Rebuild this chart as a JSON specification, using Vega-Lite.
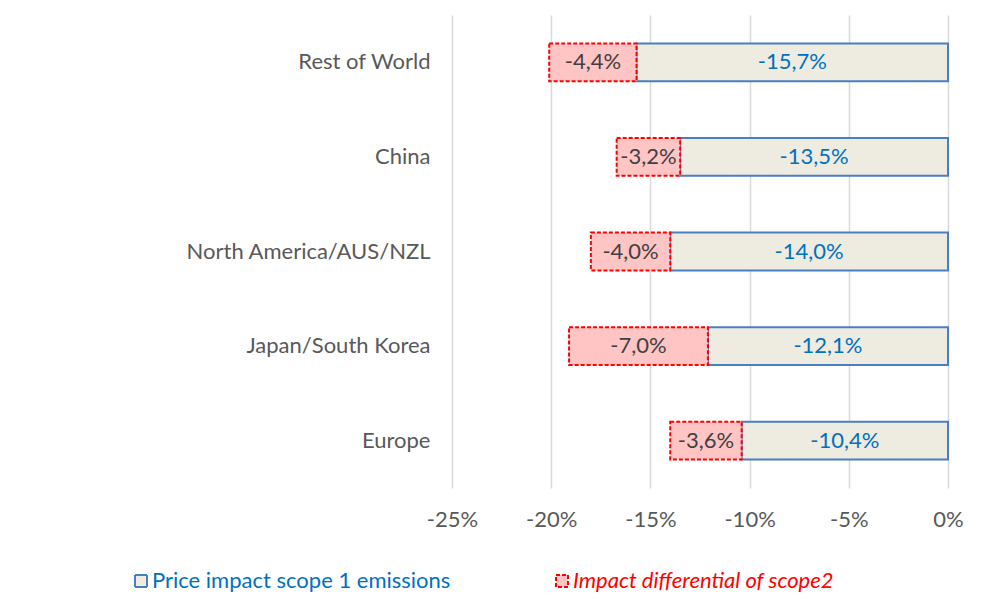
{
  "$schema": "https://vega.github.io/schema/vega-lite/v6.json",
  "width": 496,
  "height": 473,
  "autosize": {"type": "none"},
  "padding": {"left": 452, "top": 15, "right": 38, "bottom": 111},
  "background": "white",
  "config": {
    "font": "Lato",
    "view": {"stroke": null},
    "locale": {
      "number": {
        "decimal": ",",
        "thousands": ".",
        "grouping": [3],
        "currency": ["", " €"],
        "minus": "-"
      }
    }
  },
  "data": {
    "values": [
      {"region": "Rest of World", "series": "Price impact scope 1 emissions", "value": -0.157},
      {"region": "China", "series": "Price impact scope 1 emissions", "value": -0.135},
      {"region": "North America/AUS/NZL", "series": "Price impact scope 1 emissions", "value": -0.140},
      {"region": "Japan/South Korea", "series": "Price impact scope 1 emissions", "value": -0.121},
      {"region": "Europe", "series": "Price impact scope 1 emissions", "value": -0.104},
      {"region": "Rest of World", "series": "Impact differential of scope2", "value": -0.044},
      {"region": "China", "series": "Impact differential of scope2", "value": -0.032},
      {"region": "North America/AUS/NZL", "series": "Impact differential of scope2", "value": -0.040},
      {"region": "Japan/South Korea", "series": "Impact differential of scope2", "value": -0.070},
      {"region": "Europe", "series": "Impact differential of scope2", "value": -0.036}
    ]
  },
  "transform": [
    {
      "stack": "value",
      "groupby": ["region"],
      "sort": [{"field": "series", "order": "descending"}],
      "as": ["v0", "v1"]
    },
    {"calculate": "(datum.v0 + datum.v1) / 2", "as": "mid"}
  ],
  "encoding": {
    "y": {
      "field": "region",
      "type": "nominal",
      "sort": ["Rest of World", "China", "North America/AUS/NZL", "Japan/South Korea", "Europe"],
      "scale": {"paddingInner": 0.6, "paddingOuter": 0.3},
      "axis": {
        "title": null,
        "domain": false,
        "ticks": false,
        "labelFontSize": 22,
        "labelColor": "#595959",
        "labelPadding": 22,
        "labelLimit": 400
      }
    }
  },
  "layer": [
    {
      "mark": {"type": "bar", "strokeWidth": 2},
      "encoding": {
        "x": {
          "field": "v1",
          "type": "quantitative",
          "scale": {"domain": [-0.25, 0], "nice": false},
          "axis": {
            "title": null,
            "values": [-0.25, -0.2, -0.15, -0.1, -0.05, 0],
            "format": ".0%",
            "domain": false,
            "ticks": false,
            "grid": true,
            "gridColor": "#D9D9D9",
            "gridWidth": 1.5,
            "labelFlush": false,
            "labelFontSize": 22,
            "labelColor": "#595959",
            "labelPadding": 21
          }
        },
        "x2": {"field": "v0"},
        "fill": {
          "field": "series",
          "type": "nominal",
          "scale": {
            "domain": ["Price impact scope 1 emissions", "Impact differential of scope2"],
            "range": ["#EEEBE1", "#FFC4C4"]
          },
          "legend": {
            "title": null,
            "orient": "none",
            "direction": "horizontal",
            "legendX": -322,
            "legendY": 555,
            "padding": 0,
            "symbolType": "square",
            "symbolSize": 144,
            "symbolStrokeWidth": 2,
            "labelFontSize": 22,
            "labelOffset": 0,
            "columnPadding": 100,
            "labelLimit": 400,
            "encode": {
              "symbols": {
                "update": {
                  "stroke": {"signal": "datum.value === 'Impact differential of scope2' ? '#FF0000' : '#4A7EC3'"},
                  "strokeDash": {"signal": "datum.value === 'Impact differential of scope2' ? [3, 2] : []"},
                  "strokeWidth": {"value": 2}
                }
              },
              "labels": {
                "update": {
                  "fill": {"signal": "datum.value === 'Impact differential of scope2' ? '#FF0000' : '#0070C0'"},
                  "fontStyle": {"signal": "datum.value === 'Impact differential of scope2' ? 'italic' : 'normal'"}
                }
              }
            }
          }
        },
        "stroke": {
          "field": "series",
          "type": "nominal",
          "scale": {
            "domain": ["Price impact scope 1 emissions", "Impact differential of scope2"],
            "range": ["#4A7EC3", "#FF0000"]
          },
          "legend": null
        },
        "strokeDash": {
          "field": "series",
          "type": "nominal",
          "scale": {
            "domain": ["Price impact scope 1 emissions", "Impact differential of scope2"],
            "range": [[1, 0], [4, 2]]
          },
          "legend": null
        }
      }
    },
    {
      "mark": {"type": "text", "fontSize": 22, "align": "center", "baseline": "middle"},
      "encoding": {
        "x": {"field": "mid", "type": "quantitative"},
        "text": {"field": "value", "type": "quantitative", "format": ".1%"},
        "color": {
          "condition": {"test": "datum.series === 'Impact differential of scope2'", "value": "#404040"},
          "value": "#0070C0"
        }
      }
    }
  ]
}
